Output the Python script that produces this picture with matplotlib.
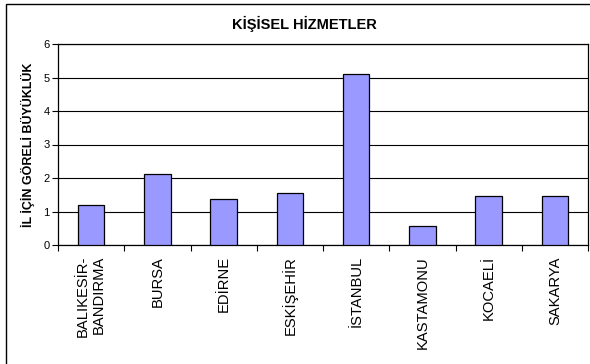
import matplotlib.pyplot as plt
import numpy as np
from matplotlib.patches import Rectangle

# Relative size of personal services by province
provinces = ['BALIKESİR-\nBANDIRMA', 'BURSA', 'EDİRNE', 'ESKİŞEHİR', 'İSTANBUL',
             'KASTAMONU', 'KOCAELİ', 'SAKARYA']
values = [1.18, 2.11, 1.37, 1.55, 5.09, 0.58, 1.46, 1.45]

plt.rcParams['font.family'] = ['Liberation Sans', 'DejaVu Sans']

fig = plt.figure(figsize=(5.9, 3.64), dpi=100)
ax = fig.add_axes([58/590, 1 - 245/364, 530/590, 201/364])

x = np.arange(len(provinces))
ax.bar(x, values, width=0.4, color='#9999FF', edgecolor='black', linewidth=0.9, zorder=3)

ax.set_xlim(-0.5, len(provinces) - 0.5)
ax.set_ylim(0, 6)
ax.set_yticks(range(0, 7))
ax.yaxis.grid(True, color='black', linewidth=0.8, zorder=0)

# category labels at centres, tick marks at boundaries
ax.set_xticks(x)
ax.set_xticklabels(provinces, rotation=90, fontsize=10.6, ha='center', va='top',
                   multialignment='right')
ax.tick_params(axis='x', which='major', length=0, pad=8)
ax.set_xticks(np.arange(-0.5, len(provinces)), minor=True)
ax.tick_params(axis='x', which='minor', length=4, width=0.8, direction='out')
ax.tick_params(axis='y', length=4, width=0.8, labelsize=8, pad=2)

for s in ax.spines.values():
    s.set_linewidth(0.9)
    s.set_color('black')

ax.set_ylabel('İL İÇİN GÖRELİ BÜYÜKLÜK', fontsize=9, fontweight='bold', labelpad=6)
fig.text(304/590, 1 - 24/364, 'KİŞİSEL HİZMETLER', fontsize=10.5, fontweight='bold',
         ha='center', va='center')

# chart area frame
fig.patches.append(Rectangle((6/590, -0.1), 1.2, 0.1 + 1 - 4/364, transform=fig.transFigure,
                             fill=False, edgecolor='black', linewidth=1.0))

fig.savefig('out.png', dpi=100)
